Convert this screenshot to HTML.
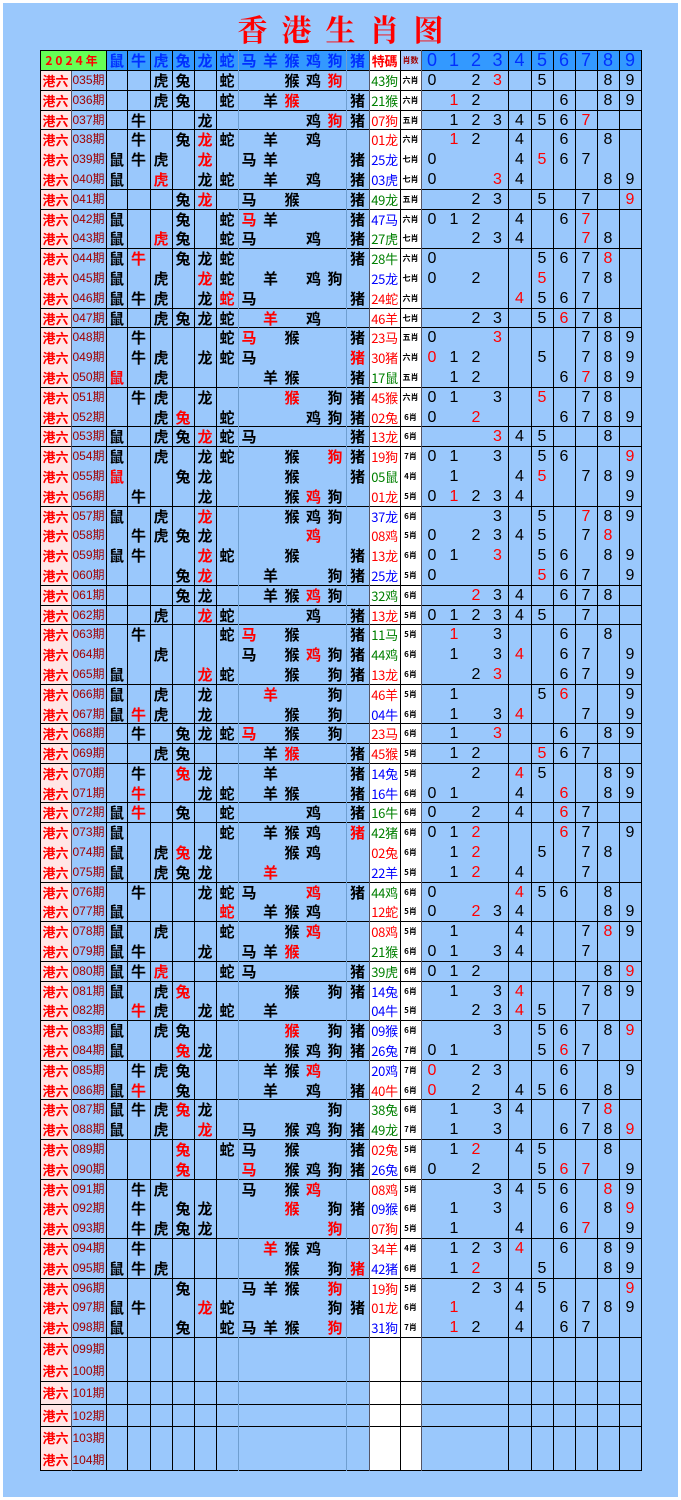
<!DOCTYPE html>
<html><head><meta charset="utf-8"><style>
*{margin:0;padding:0;box-sizing:border-box}
body{width:681px;height:1500px;background:#fff;position:relative;overflow:hidden;font-family:"Liberation Sans","Noto Sans CJK SC",sans-serif}
#bg{position:absolute;left:3px;top:3px;width:675px;height:1494px;background:#9ac8fc}
#title{position:absolute;left:0;width:681px;top:8px;text-align:center;color:#f00;font:bold 30px "Noto Serif CJK SC","Noto Sans CJK SC",serif;letter-spacing:14px;padding-left:14px;line-height:40px}
#t{position:absolute;left:40px;top:50px;width:601px}
.r{display:flex;height:19.8px;line-height:19.8px;background:#9ac8fc}
.r.e{border-bottom:1px solid #000}
.r.x{height:22.2px;line-height:22.2px}
.r s{text-decoration:none;display:block;text-align:center;flex:none;font:bold 15px "Noto Sans CJK SC",sans-serif;color:#000;overflow:hidden;white-space:nowrap}
.r i{font-style:normal;color:#f00}
.r s:nth-child(1){width:31px;background:#ffe6e6;color:#f00;font-size:13px}
.r s:nth-child(2){width:35px;color:#a00000;font:12px "Liberation Sans","Noto Sans CJK SC",sans-serif}
.r s:nth-child(3){width:21px}.r s:nth-child(4){width:23px}
.r s:nth-child(5),.r s:nth-child(6),.r s:nth-child(7),.r s:nth-child(8),.r s:nth-child(9),.r s:nth-child(11),.r s:nth-child(13){width:22px}
.r s:nth-child(10),.r s:nth-child(12){width:21px}
.r s:nth-child(14){width:23px}
.r s:nth-child(15){width:31px;background:#fff;font-size:13px;font-weight:normal;letter-spacing:-0.3px}
.r s:nth-child(16){width:21px;background:#fff;font-size:8px;font-weight:bold}
.r s:nth-child(n+17){width:22px;font:16px "Liberation Sans",sans-serif}
.r s:nth-child(20){width:21px}.r s:nth-child(21){width:23px}
.r s.g{color:#008000}.r s.rd{color:#f00}.r s.b{color:#00f}
.h{height:21px;line-height:21px;border-top:1px solid #000;border-bottom:1px solid #000;background:#3399ff}
.h s{color:#0030ff}
.h s:nth-child(1){width:66px;background:#66ff55;color:#f00;font-size:12px;letter-spacing:3px}
.h s:nth-child(2){width:0}
.h s:nth-child(15){color:#f00;font-size:13px;font-weight:bold}
.h s:nth-child(16){background:#a8ccff;color:#a00000}
.h s:nth-child(n+17){color:#0030ff;font-size:18px}
.r s:nth-child(n){line-height:19.8px}
.r.x s:nth-child(n){line-height:22.2px}
.r.h s:nth-child(n){line-height:19px}
.v{position:absolute;top:50px;height:1421px;width:1px;background:#000}
.v.l{background:#6f9fd0}.v.m{background:#556}
</style></head><body>
<div id="bg"></div>
<div id="title">香港生肖图</div>
<div id="t">
<div class="r h"><s>2024年</s><s></s><s>鼠</s><s>牛</s><s>虎</s><s>兔</s><s>龙</s><s>蛇</s><s>马</s><s>羊</s><s>猴</s><s>鸡</s><s>狗</s><s>猪</s><s>特碼</s><s>肖数</s><s>0</s><s>1</s><s>2</s><s>3</s><s>4</s><s>5</s><s>6</s><s>7</s><s>8</s><s>9</s></div>
<div class="r e"><s>港六</s><s>035期</s><s></s><s></s><s>虎</s><s>兔</s><s></s><s>蛇</s><s></s><s></s><s>猴</s><s>鸡</s><s><i>狗</i></s><s></s><s class=g>43狗</s><s>六肖</s><s>0</s><s></s><s>2</s><s><i>3</i></s><s></s><s>5</s><s></s><s></s><s>8</s><s>9</s></div>
<div class="r e"><s>港六</s><s>036期</s><s></s><s></s><s>虎</s><s>兔</s><s></s><s>蛇</s><s></s><s>羊</s><s><i>猴</i></s><s></s><s></s><s>猪</s><s class=g>21猴</s><s>六肖</s><s></s><s><i>1</i></s><s>2</s><s></s><s></s><s></s><s>6</s><s></s><s>8</s><s>9</s></div>
<div class="r e"><s>港六</s><s>037期</s><s></s><s>牛</s><s></s><s></s><s>龙</s><s></s><s></s><s></s><s></s><s>鸡</s><s><i>狗</i></s><s>猪</s><s class=rd>07狗</s><s>五肖</s><s></s><s>1</s><s>2</s><s>3</s><s>4</s><s>5</s><s>6</s><s><i>7</i></s><s></s><s></s></div>
<div class="r"><s>港六</s><s>038期</s><s></s><s>牛</s><s></s><s>兔</s><s><i>龙</i></s><s>蛇</s><s></s><s>羊</s><s></s><s>鸡</s><s></s><s></s><s class=rd>01龙</s><s>六肖</s><s></s><s><i>1</i></s><s>2</s><s></s><s>4</s><s></s><s>6</s><s></s><s>8</s><s></s></div>
<div class="r"><s>港六</s><s>039期</s><s>鼠</s><s>牛</s><s>虎</s><s></s><s><i>龙</i></s><s></s><s>马</s><s>羊</s><s></s><s></s><s></s><s>猪</s><s class=b>25龙</s><s>七肖</s><s>0</s><s></s><s></s><s></s><s>4</s><s><i>5</i></s><s>6</s><s>7</s><s></s><s></s></div>
<div class="r e"><s>港六</s><s>040期</s><s>鼠</s><s></s><s><i>虎</i></s><s></s><s>龙</s><s>蛇</s><s></s><s>羊</s><s></s><s>鸡</s><s></s><s>猪</s><s class=b>03虎</s><s>七肖</s><s>0</s><s></s><s></s><s><i>3</i></s><s>4</s><s></s><s></s><s></s><s>8</s><s>9</s></div>
<div class="r e"><s>港六</s><s>041期</s><s></s><s></s><s></s><s>兔</s><s><i>龙</i></s><s></s><s>马</s><s></s><s>猴</s><s></s><s></s><s>猪</s><s class=g>49龙</s><s>五肖</s><s></s><s></s><s>2</s><s>3</s><s></s><s>5</s><s></s><s>7</s><s></s><s><i>9</i></s></div>
<div class="r"><s>港六</s><s>042期</s><s>鼠</s><s></s><s></s><s>兔</s><s></s><s>蛇</s><s><i>马</i></s><s>羊</s><s></s><s></s><s></s><s>猪</s><s class=b>47马</s><s>六肖</s><s>0</s><s>1</s><s>2</s><s></s><s>4</s><s></s><s>6</s><s><i>7</i></s><s></s><s></s></div>
<div class="r e"><s>港六</s><s>043期</s><s>鼠</s><s></s><s><i>虎</i></s><s>兔</s><s></s><s>蛇</s><s>马</s><s></s><s></s><s>鸡</s><s></s><s>猪</s><s class=g>27虎</s><s>七肖</s><s></s><s></s><s>2</s><s>3</s><s>4</s><s></s><s></s><s><i>7</i></s><s>8</s><s></s></div>
<div class="r"><s>港六</s><s>044期</s><s>鼠</s><s><i>牛</i></s><s></s><s>兔</s><s>龙</s><s>蛇</s><s></s><s></s><s></s><s></s><s></s><s>猪</s><s class=g>28牛</s><s>六肖</s><s>0</s><s></s><s></s><s></s><s></s><s>5</s><s>6</s><s>7</s><s><i>8</i></s><s></s></div>
<div class="r"><s>港六</s><s>045期</s><s>鼠</s><s></s><s>虎</s><s></s><s><i>龙</i></s><s>蛇</s><s></s><s>羊</s><s></s><s>鸡</s><s>狗</s><s></s><s class=b>25龙</s><s>七肖</s><s>0</s><s></s><s>2</s><s></s><s></s><s><i>5</i></s><s></s><s>7</s><s>8</s><s></s></div>
<div class="r e"><s>港六</s><s>046期</s><s>鼠</s><s>牛</s><s>虎</s><s></s><s>龙</s><s><i>蛇</i></s><s>马</s><s></s><s></s><s></s><s></s><s>猪</s><s class=rd>24蛇</s><s>六肖</s><s></s><s></s><s></s><s></s><s><i>4</i></s><s>5</s><s>6</s><s>7</s><s></s><s></s></div>
<div class="r e"><s>港六</s><s>047期</s><s>鼠</s><s></s><s>虎</s><s>兔</s><s>龙</s><s>蛇</s><s></s><s><i>羊</i></s><s></s><s>鸡</s><s></s><s></s><s class=rd>46羊</s><s>七肖</s><s></s><s></s><s>2</s><s>3</s><s></s><s>5</s><s><i>6</i></s><s>7</s><s>8</s><s></s></div>
<div class="r"><s>港六</s><s>048期</s><s></s><s>牛</s><s></s><s></s><s></s><s>蛇</s><s><i>马</i></s><s></s><s>猴</s><s></s><s></s><s>猪</s><s class=rd>23马</s><s>五肖</s><s>0</s><s></s><s></s><s><i>3</i></s><s></s><s></s><s></s><s>7</s><s>8</s><s>9</s></div>
<div class="r"><s>港六</s><s>049期</s><s></s><s>牛</s><s>虎</s><s></s><s>龙</s><s>蛇</s><s>马</s><s></s><s></s><s></s><s></s><s><i>猪</i></s><s class=rd>30猪</s><s>六肖</s><s><i>0</i></s><s>1</s><s>2</s><s></s><s></s><s>5</s><s></s><s>7</s><s>8</s><s>9</s></div>
<div class="r e"><s>港六</s><s>050期</s><s><i>鼠</i></s><s></s><s>虎</s><s></s><s></s><s></s><s></s><s>羊</s><s>猴</s><s></s><s></s><s>猪</s><s class=g>17鼠</s><s>五肖</s><s></s><s>1</s><s>2</s><s></s><s></s><s></s><s>6</s><s><i>7</i></s><s>8</s><s>9</s></div>
<div class="r"><s>港六</s><s>051期</s><s></s><s>牛</s><s>虎</s><s></s><s>龙</s><s></s><s></s><s></s><s><i>猴</i></s><s></s><s>狗</s><s>猪</s><s class=rd>45猴</s><s>六肖</s><s>0</s><s>1</s><s></s><s>3</s><s></s><s><i>5</i></s><s></s><s>7</s><s>8</s><s></s></div>
<div class="r e"><s>港六</s><s>052期</s><s></s><s></s><s>虎</s><s><i>兔</i></s><s></s><s>蛇</s><s></s><s></s><s></s><s>鸡</s><s>狗</s><s>猪</s><s class=rd>02兔</s><s>6肖</s><s>0</s><s></s><s><i>2</i></s><s></s><s></s><s></s><s>6</s><s>7</s><s>8</s><s>9</s></div>
<div class="r e"><s>港六</s><s>053期</s><s>鼠</s><s></s><s>虎</s><s>兔</s><s><i>龙</i></s><s>蛇</s><s>马</s><s></s><s></s><s></s><s></s><s>猪</s><s class=rd>13龙</s><s>6肖</s><s></s><s></s><s></s><s><i>3</i></s><s>4</s><s>5</s><s></s><s></s><s>8</s><s></s></div>
<div class="r"><s>港六</s><s>054期</s><s>鼠</s><s></s><s>虎</s><s></s><s>龙</s><s>蛇</s><s></s><s></s><s>猴</s><s></s><s><i>狗</i></s><s>猪</s><s class=rd>19狗</s><s>7肖</s><s>0</s><s>1</s><s></s><s>3</s><s></s><s>5</s><s>6</s><s></s><s></s><s><i>9</i></s></div>
<div class="r"><s>港六</s><s>055期</s><s><i>鼠</i></s><s></s><s></s><s>兔</s><s>龙</s><s></s><s></s><s></s><s>猴</s><s></s><s></s><s>猪</s><s class=g>05鼠</s><s>4肖</s><s></s><s>1</s><s></s><s></s><s>4</s><s><i>5</i></s><s></s><s>7</s><s>8</s><s>9</s></div>
<div class="r e"><s>港六</s><s>056期</s><s></s><s>牛</s><s></s><s></s><s>龙</s><s></s><s></s><s></s><s>猴</s><s><i>鸡</i></s><s>狗</s><s></s><s class=rd>01龙</s><s>5肖</s><s>0</s><s><i>1</i></s><s>2</s><s>3</s><s>4</s><s></s><s></s><s></s><s></s><s>9</s></div>
<div class="r"><s>港六</s><s>057期</s><s>鼠</s><s></s><s>虎</s><s></s><s><i>龙</i></s><s></s><s></s><s></s><s>猴</s><s>鸡</s><s>狗</s><s></s><s class=b>37龙</s><s>6肖</s><s></s><s></s><s></s><s>3</s><s></s><s>5</s><s></s><s><i>7</i></s><s>8</s><s>9</s></div>
<div class="r"><s>港六</s><s>058期</s><s></s><s>牛</s><s>虎</s><s>兔</s><s>龙</s><s></s><s></s><s></s><s></s><s><i>鸡</i></s><s></s><s></s><s class=rd>08鸡</s><s>5肖</s><s>0</s><s></s><s>2</s><s>3</s><s>4</s><s>5</s><s></s><s>7</s><s><i>8</i></s><s></s></div>
<div class="r"><s>港六</s><s>059期</s><s>鼠</s><s>牛</s><s></s><s></s><s><i>龙</i></s><s>蛇</s><s></s><s></s><s>猴</s><s></s><s></s><s>猪</s><s class=rd>13龙</s><s>6肖</s><s>0</s><s>1</s><s></s><s><i>3</i></s><s></s><s>5</s><s>6</s><s></s><s>8</s><s>9</s></div>
<div class="r e"><s>港六</s><s>060期</s><s></s><s></s><s></s><s>兔</s><s><i>龙</i></s><s></s><s></s><s>羊</s><s></s><s></s><s>狗</s><s>猪</s><s class=b>25龙</s><s>5肖</s><s>0</s><s></s><s></s><s></s><s></s><s><i>5</i></s><s>6</s><s>7</s><s></s><s>9</s></div>
<div class="r e"><s>港六</s><s>061期</s><s></s><s></s><s></s><s>兔</s><s>龙</s><s></s><s></s><s>羊</s><s>猴</s><s><i>鸡</i></s><s>狗</s><s></s><s class=g>32鸡</s><s>6肖</s><s></s><s></s><s><i>2</i></s><s>3</s><s>4</s><s></s><s>6</s><s>7</s><s>8</s><s></s></div>
<div class="r e"><s>港六</s><s>062期</s><s></s><s></s><s>虎</s><s></s><s><i>龙</i></s><s>蛇</s><s></s><s></s><s></s><s>鸡</s><s></s><s>猪</s><s class=rd>13龙</s><s>5肖</s><s>0</s><s>1</s><s>2</s><s>3</s><s>4</s><s>5</s><s></s><s>7</s><s></s><s></s></div>
<div class="r"><s>港六</s><s>063期</s><s></s><s>牛</s><s></s><s></s><s></s><s>蛇</s><s><i>马</i></s><s></s><s>猴</s><s></s><s></s><s>猪</s><s class=g>11马</s><s>5肖</s><s></s><s><i>1</i></s><s></s><s>3</s><s></s><s></s><s>6</s><s></s><s>8</s><s></s></div>
<div class="r"><s>港六</s><s>064期</s><s></s><s></s><s>虎</s><s></s><s></s><s></s><s>马</s><s></s><s>猴</s><s><i>鸡</i></s><s>狗</s><s>猪</s><s class=g>44鸡</s><s>6肖</s><s></s><s>1</s><s></s><s>3</s><s><i>4</i></s><s></s><s>6</s><s>7</s><s></s><s>9</s></div>
<div class="r e"><s>港六</s><s>065期</s><s>鼠</s><s></s><s></s><s></s><s><i>龙</i></s><s>蛇</s><s></s><s></s><s>猴</s><s></s><s>狗</s><s>猪</s><s class=rd>13龙</s><s>6肖</s><s></s><s></s><s>2</s><s><i>3</i></s><s></s><s></s><s>6</s><s>7</s><s></s><s>9</s></div>
<div class="r"><s>港六</s><s>066期</s><s>鼠</s><s></s><s>虎</s><s></s><s>龙</s><s></s><s></s><s><i>羊</i></s><s></s><s></s><s>狗</s><s></s><s class=rd>46羊</s><s>5肖</s><s></s><s>1</s><s></s><s></s><s></s><s>5</s><s><i>6</i></s><s></s><s></s><s>9</s></div>
<div class="r e"><s>港六</s><s>067期</s><s>鼠</s><s><i>牛</i></s><s>虎</s><s></s><s>龙</s><s></s><s></s><s></s><s>猴</s><s></s><s>狗</s><s></s><s class=b>04牛</s><s>6肖</s><s></s><s>1</s><s></s><s>3</s><s><i>4</i></s><s></s><s></s><s>7</s><s></s><s>9</s></div>
<div class="r e"><s>港六</s><s>068期</s><s></s><s>牛</s><s></s><s>兔</s><s>龙</s><s>蛇</s><s><i>马</i></s><s></s><s>猴</s><s></s><s>狗</s><s></s><s class=rd>23马</s><s>6肖</s><s></s><s>1</s><s></s><s><i>3</i></s><s></s><s></s><s>6</s><s></s><s>8</s><s>9</s></div>
<div class="r e"><s>港六</s><s>069期</s><s></s><s></s><s>虎</s><s>兔</s><s></s><s></s><s></s><s>羊</s><s><i>猴</i></s><s></s><s></s><s>猪</s><s class=rd>45猴</s><s>5肖</s><s></s><s>1</s><s>2</s><s></s><s></s><s><i>5</i></s><s>6</s><s>7</s><s></s><s></s></div>
<div class="r"><s>港六</s><s>070期</s><s></s><s>牛</s><s></s><s><i>兔</i></s><s>龙</s><s></s><s></s><s>羊</s><s></s><s></s><s></s><s>猪</s><s class=b>14兔</s><s>5肖</s><s></s><s></s><s>2</s><s></s><s><i>4</i></s><s>5</s><s></s><s></s><s>8</s><s>9</s></div>
<div class="r e"><s>港六</s><s>071期</s><s></s><s><i>牛</i></s><s></s><s></s><s>龙</s><s>蛇</s><s></s><s>羊</s><s>猴</s><s></s><s></s><s>猪</s><s class=b>16牛</s><s>6肖</s><s>0</s><s>1</s><s></s><s></s><s>4</s><s></s><s><i>6</i></s><s></s><s>8</s><s>9</s></div>
<div class="r e"><s>港六</s><s>072期</s><s>鼠</s><s><i>牛</i></s><s></s><s>兔</s><s></s><s>蛇</s><s></s><s></s><s></s><s>鸡</s><s></s><s>猪</s><s class=g>16牛</s><s>6肖</s><s>0</s><s></s><s>2</s><s></s><s>4</s><s></s><s><i>6</i></s><s>7</s><s></s><s></s></div>
<div class="r"><s>港六</s><s>073期</s><s>鼠</s><s></s><s></s><s></s><s></s><s>蛇</s><s></s><s>羊</s><s>猴</s><s>鸡</s><s></s><s><i>猪</i></s><s class=g>42猪</s><s>6肖</s><s>0</s><s>1</s><s><i>2</i></s><s></s><s></s><s></s><s><i>6</i></s><s>7</s><s></s><s>9</s></div>
<div class="r"><s>港六</s><s>074期</s><s>鼠</s><s></s><s>虎</s><s><i>兔</i></s><s>龙</s><s></s><s></s><s></s><s>猴</s><s>鸡</s><s></s><s></s><s class=rd>02兔</s><s>6肖</s><s></s><s>1</s><s><i>2</i></s><s></s><s></s><s>5</s><s></s><s>7</s><s>8</s><s></s></div>
<div class="r e"><s>港六</s><s>075期</s><s>鼠</s><s></s><s>虎</s><s>兔</s><s>龙</s><s></s><s></s><s><i>羊</i></s><s></s><s></s><s></s><s></s><s class=b>22羊</s><s>5肖</s><s></s><s>1</s><s><i>2</i></s><s></s><s>4</s><s></s><s></s><s>7</s><s></s><s></s></div>
<div class="r"><s>港六</s><s>076期</s><s></s><s>牛</s><s></s><s></s><s>龙</s><s>蛇</s><s>马</s><s></s><s></s><s><i>鸡</i></s><s></s><s>猪</s><s class=g>44鸡</s><s>6肖</s><s>0</s><s></s><s></s><s></s><s><i>4</i></s><s>5</s><s>6</s><s></s><s>8</s><s></s></div>
<div class="r e"><s>港六</s><s>077期</s><s>鼠</s><s></s><s></s><s></s><s></s><s><i>蛇</i></s><s></s><s>羊</s><s>猴</s><s>鸡</s><s></s><s></s><s class=rd>12蛇</s><s>5肖</s><s>0</s><s></s><s><i>2</i></s><s>3</s><s>4</s><s></s><s></s><s></s><s>8</s><s>9</s></div>
<div class="r"><s>港六</s><s>078期</s><s>鼠</s><s></s><s>虎</s><s></s><s></s><s>蛇</s><s></s><s></s><s>猴</s><s><i>鸡</i></s><s></s><s></s><s class=rd>08鸡</s><s>5肖</s><s></s><s>1</s><s></s><s></s><s>4</s><s></s><s></s><s>7</s><s><i>8</i></s><s>9</s></div>
<div class="r e"><s>港六</s><s>079期</s><s>鼠</s><s>牛</s><s></s><s></s><s>龙</s><s></s><s>马</s><s>羊</s><s><i>猴</i></s><s></s><s></s><s></s><s class=g>21猴</s><s>6肖</s><s>0</s><s>1</s><s></s><s>3</s><s>4</s><s></s><s></s><s>7</s><s></s><s></s></div>
<div class="r e"><s>港六</s><s>080期</s><s>鼠</s><s>牛</s><s><i>虎</i></s><s></s><s></s><s>蛇</s><s>马</s><s></s><s></s><s></s><s></s><s>猪</s><s class=g>39虎</s><s>6肖</s><s>0</s><s>1</s><s>2</s><s></s><s></s><s></s><s></s><s></s><s>8</s><s><i>9</i></s></div>
<div class="r"><s>港六</s><s>081期</s><s>鼠</s><s></s><s>虎</s><s><i>兔</i></s><s></s><s></s><s></s><s></s><s>猴</s><s></s><s>狗</s><s>猪</s><s class=b>14兔</s><s>6肖</s><s></s><s>1</s><s></s><s>3</s><s><i>4</i></s><s></s><s></s><s>7</s><s>8</s><s>9</s></div>
<div class="r e"><s>港六</s><s>082期</s><s></s><s><i>牛</i></s><s>虎</s><s></s><s>龙</s><s>蛇</s><s></s><s>羊</s><s></s><s></s><s></s><s></s><s class=b>04牛</s><s>5肖</s><s></s><s></s><s>2</s><s>3</s><s><i>4</i></s><s>5</s><s></s><s>7</s><s></s><s></s></div>
<div class="r"><s>港六</s><s>083期</s><s>鼠</s><s></s><s>虎</s><s>兔</s><s></s><s></s><s></s><s></s><s><i>猴</i></s><s></s><s>狗</s><s>猪</s><s class=b>09猴</s><s>6肖</s><s></s><s></s><s></s><s>3</s><s></s><s>5</s><s>6</s><s></s><s>8</s><s><i>9</i></s></div>
<div class="r e"><s>港六</s><s>084期</s><s>鼠</s><s></s><s></s><s><i>兔</i></s><s>龙</s><s></s><s></s><s></s><s>猴</s><s>鸡</s><s>狗</s><s>猪</s><s class=b>26兔</s><s>7肖</s><s>0</s><s>1</s><s></s><s></s><s></s><s>5</s><s><i>6</i></s><s>7</s><s></s><s></s></div>
<div class="r"><s>港六</s><s>085期</s><s></s><s>牛</s><s>虎</s><s>兔</s><s></s><s></s><s></s><s>羊</s><s>猴</s><s><i>鸡</i></s><s></s><s></s><s class=b>20鸡</s><s>7肖</s><s><i>0</i></s><s></s><s>2</s><s>3</s><s></s><s></s><s>6</s><s></s><s></s><s>9</s></div>
<div class="r e"><s>港六</s><s>086期</s><s>鼠</s><s><i>牛</i></s><s></s><s>兔</s><s></s><s></s><s></s><s>羊</s><s></s><s>鸡</s><s></s><s>猪</s><s class=rd>40牛</s><s>6肖</s><s><i>0</i></s><s></s><s>2</s><s></s><s>4</s><s>5</s><s>6</s><s></s><s>8</s><s></s></div>
<div class="r"><s>港六</s><s>087期</s><s>鼠</s><s>牛</s><s>虎</s><s><i>兔</i></s><s>龙</s><s></s><s></s><s></s><s></s><s></s><s>狗</s><s></s><s class=g>38兔</s><s>6肖</s><s></s><s>1</s><s></s><s>3</s><s>4</s><s></s><s></s><s>7</s><s><i>8</i></s><s></s></div>
<div class="r e"><s>港六</s><s>088期</s><s>鼠</s><s></s><s>虎</s><s></s><s><i>龙</i></s><s></s><s>马</s><s></s><s>猴</s><s>鸡</s><s>狗</s><s>猪</s><s class=g>49龙</s><s>7肖</s><s></s><s>1</s><s></s><s>3</s><s></s><s></s><s>6</s><s>7</s><s>8</s><s><i>9</i></s></div>
<div class="r"><s>港六</s><s>089期</s><s></s><s></s><s></s><s><i>兔</i></s><s></s><s>蛇</s><s>马</s><s></s><s>猴</s><s></s><s></s><s>猪</s><s class=rd>02兔</s><s>5肖</s><s></s><s>1</s><s><i>2</i></s><s></s><s>4</s><s>5</s><s></s><s></s><s>8</s><s></s></div>
<div class="r e"><s>港六</s><s>090期</s><s></s><s></s><s></s><s><i>兔</i></s><s></s><s></s><s><i>马</i></s><s></s><s>猴</s><s>鸡</s><s>狗</s><s>猪</s><s class=b>26兔</s><s>6肖</s><s>0</s><s></s><s>2</s><s></s><s></s><s>5</s><s><i>6</i></s><s><i>7</i></s><s></s><s>9</s></div>
<div class="r"><s>港六</s><s>091期</s><s></s><s>牛</s><s>虎</s><s></s><s></s><s></s><s>马</s><s></s><s>猴</s><s><i>鸡</i></s><s></s><s></s><s class=rd>08鸡</s><s>5肖</s><s></s><s></s><s></s><s>3</s><s>4</s><s>5</s><s>6</s><s></s><s><i>8</i></s><s>9</s></div>
<div class="r"><s>港六</s><s>092期</s><s></s><s>牛</s><s></s><s>兔</s><s>龙</s><s></s><s></s><s></s><s><i>猴</i></s><s></s><s>狗</s><s>猪</s><s class=b>09猴</s><s>6肖</s><s></s><s>1</s><s></s><s>3</s><s></s><s></s><s>6</s><s></s><s>8</s><s><i>9</i></s></div>
<div class="r e"><s>港六</s><s>093期</s><s></s><s>牛</s><s>虎</s><s>兔</s><s>龙</s><s></s><s></s><s></s><s></s><s></s><s><i>狗</i></s><s></s><s class=rd>07狗</s><s>5肖</s><s></s><s>1</s><s></s><s></s><s>4</s><s></s><s>6</s><s><i>7</i></s><s></s><s>9</s></div>
<div class="r"><s>港六</s><s>094期</s><s></s><s>牛</s><s></s><s></s><s></s><s></s><s></s><s><i>羊</i></s><s>猴</s><s>鸡</s><s></s><s></s><s class=rd>34羊</s><s>4肖</s><s></s><s>1</s><s>2</s><s>3</s><s><i>4</i></s><s></s><s>6</s><s></s><s>8</s><s>9</s></div>
<div class="r e"><s>港六</s><s>095期</s><s>鼠</s><s>牛</s><s>虎</s><s></s><s></s><s></s><s></s><s></s><s>猴</s><s></s><s>狗</s><s><i>猪</i></s><s class=b>42猪</s><s>6肖</s><s></s><s>1</s><s><i>2</i></s><s></s><s></s><s>5</s><s></s><s></s><s>8</s><s>9</s></div>
<div class="r"><s>港六</s><s>096期</s><s></s><s></s><s></s><s>兔</s><s></s><s></s><s>马</s><s>羊</s><s>猴</s><s></s><s><i>狗</i></s><s></s><s class=rd>19狗</s><s>5肖</s><s></s><s></s><s>2</s><s>3</s><s>4</s><s>5</s><s></s><s></s><s></s><s><i>9</i></s></div>
<div class="r"><s>港六</s><s>097期</s><s>鼠</s><s>牛</s><s></s><s></s><s><i>龙</i></s><s>蛇</s><s></s><s></s><s></s><s></s><s>狗</s><s>猪</s><s class=rd>01龙</s><s>6肖</s><s></s><s><i>1</i></s><s></s><s></s><s>4</s><s></s><s>6</s><s>7</s><s>8</s><s>9</s></div>
<div class="r e"><s>港六</s><s>098期</s><s>鼠</s><s></s><s></s><s>兔</s><s></s><s>蛇</s><s>马</s><s>羊</s><s>猴</s><s></s><s><i>狗</i></s><s></s><s class=b>31狗</s><s>7肖</s><s></s><s><i>1</i></s><s>2</s><s></s><s>4</s><s></s><s>6</s><s>7</s><s></s><s></s></div>
<div class="r x"><s>港六</s><s>099期</s><s></s><s></s><s></s><s></s><s></s><s></s><s></s><s></s><s></s><s></s><s></s><s></s><s></s><s></s></div>
<div class="r x e"><s>港六</s><s>100期</s><s></s><s></s><s></s><s></s><s></s><s></s><s></s><s></s><s></s><s></s><s></s><s></s><s></s><s></s></div>
<div class="r x e"><s>港六</s><s>101期</s><s></s><s></s><s></s><s></s><s></s><s></s><s></s><s></s><s></s><s></s><s></s><s></s><s></s><s></s></div>
<div class="r x e"><s>港六</s><s>102期</s><s></s><s></s><s></s><s></s><s></s><s></s><s></s><s></s><s></s><s></s><s></s><s></s><s></s><s></s></div>
<div class="r x"><s>港六</s><s>103期</s><s></s><s></s><s></s><s></s><s></s><s></s><s></s><s></s><s></s><s></s><s></s><s></s><s></s><s></s></div>
<div class="r x e"><s>港六</s><s>104期</s><s></s><s></s><s></s><s></s><s></s><s></s><s></s><s></s><s></s><s></s><s></s><s></s><s></s><s></s></div>
</div>
<div class="v" style="left:40px"></div>
<div class="v m" style="left:71px;top:71px;height:1400px"></div>
<div class="v" style="left:106px"></div>
<div class="v" style="left:127px"></div>
<div class="v" style="left:150px"></div>
<div class="v" style="left:172px"></div>
<div class="v" style="left:194px"></div>
<div class="v" style="left:216px"></div>
<div class="v l" style="left:238px"></div>
<div class="v l" style="left:346px"></div>
<div class="v m" style="left:369px"></div>
<div class="v" style="left:400px"></div>
<div class="v m" style="left:421px"></div>
<div class="v" style="left:508px"></div>
<div class="v" style="left:531px"></div>
<div class="v" style="left:553px"></div>
<div class="v" style="left:575px"></div>
<div class="v" style="left:597px"></div>
<div class="v" style="left:619px"></div>
<div class="v" style="left:641px"></div>
</body></html>
